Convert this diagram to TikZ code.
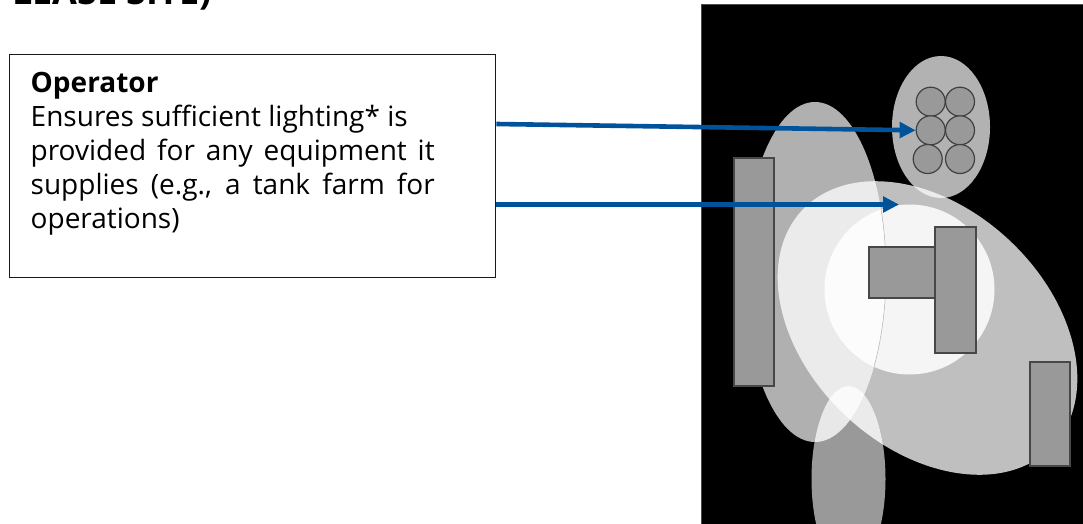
\documentclass[tikz,border=0pt]{standalone}
\usepackage{fontspec}
\setmainfont{Open Sans}
\usetikzlibrary{arrows.meta}
\definecolor{arrowblue}{HTML}{00529B}
\tikzset{
  px/.style={x=1pt,y=-1pt},
  building/.style={draw=black!72,line width=1.2pt,fill=black!40},
  tank/.style={circle,draw=black!75,line width=1.2pt,fill=black!40,minimum size=29pt,inner sep=0pt},
  feed/.style={arrowblue,line width=4.6pt,-{Triangle[length=16pt,width=15.5pt]}},
  caption/.style={draw=black!90,line width=1.4pt,fill=white,anchor=north west,inner sep=0pt,font=\fontsize{28}{34}\selectfont}
}
\newcommand{\padA}{(815,272) ellipse [x radius=71,y radius=170]}
\newcommand{\padB}{[rotate around={-43.3:(927.5,328)}] (927.5,328) ellipse [x radius=172,y radius=120]}
\newcommand{\padC}{(909.5,289.5) circle [radius=85]}
\newcommand{\padD}{(848.5,479) ellipse [x radius=37,y radius=93]}
\newcommand{\padE}{(941,127) ellipse [x radius=49,y radius=71]}
\begin{document}
\begin{tikzpicture}[px]
\useasboundingbox (0,0) rectangle (1083,524);
\begin{scope}
\clip (0,0) rectangle (1083,524);
\node[anchor=base west,font=\bfseries\fontsize{36}{36}\selectfont,inner sep=0pt] (title) at (12,5) {LEASE SITE)};
\fill[black] (701.5,4.5) rectangle (1083,524);
\draw[black!70,line width=0.6pt] (701.5,524) -- (701.5,4.5) -- (1083,4.5);
\begin{scope}
\clip (701.5,4.5) rectangle (1083,524);
\fill[black!30] \padE;
\fill[black!31] \padA;
\fill[black!25] \padB;
\fill[black!40] \padD;
\begin{scope}\clip \padB; \fill[black!8] \padE; \fill[black!8] \padA; \fill[black!4] \padC; \fill[black!8] \padD; \end{scope}
\begin{scope}\clip \padA; \fill[black!9] \padD; \end{scope}
\begin{scope}\clip \padA; \clip \padB; \fill[black!1] \padC; \fill[black!2] \padD; \end{scope}
\begin{scope}\clip \padB; \clip \padC; \draw[black!30,line width=0.5pt] \padA; \end{scope}
\end{scope}
\draw[building] (734,158) rectangle (774,386);
\draw[building] (869,247) rectangle (935,298);
\draw[building] (935,227) rectangle (976,353);
\draw[building] (1030,362) rectangle (1070,466);
\node[tank] (t1) at (930.7,101.7) {};
\node[tank] (t2) at (960,101.7) {};
\node[tank] (t3) at (930.7,130.3) {};
\node[tank] (t4) at (960,130.3) {};
\node[tank] (t5) at (927.7,159) {};
\node[tank] (t6) at (960,159) {};
\node[caption] (box) at (9,54) {\begin{minipage}[t][223pt][t]{486pt}\vspace{17.5pt}\hspace*{21pt}\begin{minipage}[t]{460pt}\raggedright
\textbf{Operator}\\
\makebox[377pt][s]{Ensures sufficient lighting* is}\\
\makebox[404pt][s]{provided for any equipment it}\\
\makebox[404pt][s]{supplies (e.g., a tank farm for}\\
operations)\end{minipage}\end{minipage}};
\coordinate (a1s) at (box.east |- 0,124);
\coordinate (a2s) at (box.east |- 0,204.5);
\coordinate (a2e) at (899,204.5);
\draw[feed] (a1s) -- (t3.west);
\draw[feed] (a2s) -- (a2e);
\end{scope}
\end{tikzpicture}
\end{document}
